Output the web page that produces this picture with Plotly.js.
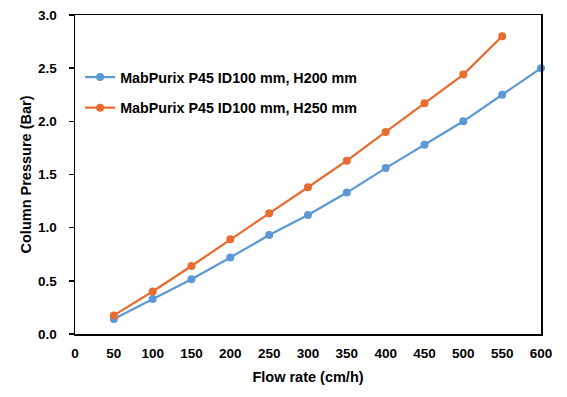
<!DOCTYPE html>
<html><head><meta charset="utf-8">
<script src="https://cdn.plot.ly/plotly-3.0.1.min.js"></script>
<style>html,body{margin:0;padding:0;background:#fff}</style>
</head><body>
<div id="chart" style="width:567px;height:397px"></div>
<script>
const flowRate = [50,100,150,200,250,300,350,400,450,500,550,600];
const pressureH200 = [0.14,0.33,0.515,0.72,0.93,1.12,1.33,1.56,1.78,2.00,2.25,2.50];
const flowRateH250 = [50,100,150,200,250,300,350,400,450,500,550];
const pressureH250 = [0.175,0.40,0.64,0.89,1.135,1.38,1.63,1.90,2.17,2.44,2.80];
const xTicks = [0,50,100,150,200,250,300,350,400,450,500,550,600];
const yTicks = [0,0.5,1.0,1.5,2.0,2.5,3.0];

const fam = '"Liberation Sans", Arial, sans-serif';
const traces = [
  {x:flowRate, y:pressureH200, name:'<b>MabPurix P45 ID100 mm, H200 mm</b>', mode:'lines+markers', legendgroup:'a',
   line:{color:'#5B98D5', width:2.25}, marker:{color:'#5B98D5', size:8}, cliponaxis:false},
  {x:flowRateH250, y:pressureH250, name:'<b>MabPurix P45 ID100 mm, H250 mm</b>', mode:'lines+markers', legendgroup:'b',
   line:{color:'#E86B30', width:2.25}, marker:{color:'#E86B30', size:8}, cliponaxis:false}
];
const layout = {
  width:567, height:397,
  margin:{l:75, r:26, t:15, b:63},
  paper_bgcolor:'#fff', plot_bgcolor:'#fff',
  font:{family:fam, size:13.5, color:'#000'},
  showlegend:true,
  legend:{x:0.011, y:0.855, xanchor:'left', yanchor:'top', bgcolor:'rgba(0,0,0,0)',
          font:{family:fam, size:14.3, color:'#000'}, tracegroupgap:9, itemwidth:30},
  xaxis:{range:[0,600], tickvals:xTicks, ticktext:xTicks.map(v=>'<b>'+v+'</b>'),
         showgrid:false, zeroline:false, showline:true, linecolor:'#000', linewidth:1.5, mirror:true,
         ticks:'', ticklen:0, ticklabelstandoff:6,
         title:{text:'<b>Flow rate (cm/h)</b>', font:{family:fam, size:14.5, color:'#000'}, standoff:12}},
  yaxis:{range:[0,3], tickvals:yTicks, ticktext:yTicks.map(v=>'<b>'+v.toFixed(1)+'</b>'),
         showgrid:false, zeroline:false, showline:true, linecolor:'#000', linewidth:1.5, mirror:true,
         ticks:'outside', ticklen:5, tickcolor:'#000', tickwidth:1.5, ticklabelstandoff:9,
         title:{text:'<b>Column Pressure (Bar)</b>', font:{family:fam, size:14.5, color:'#000'}, standoff:3}}
};
Plotly.newPlot('chart', traces, layout, {displayModeBar:false, staticPlot:true});
</script>
</body></html>
